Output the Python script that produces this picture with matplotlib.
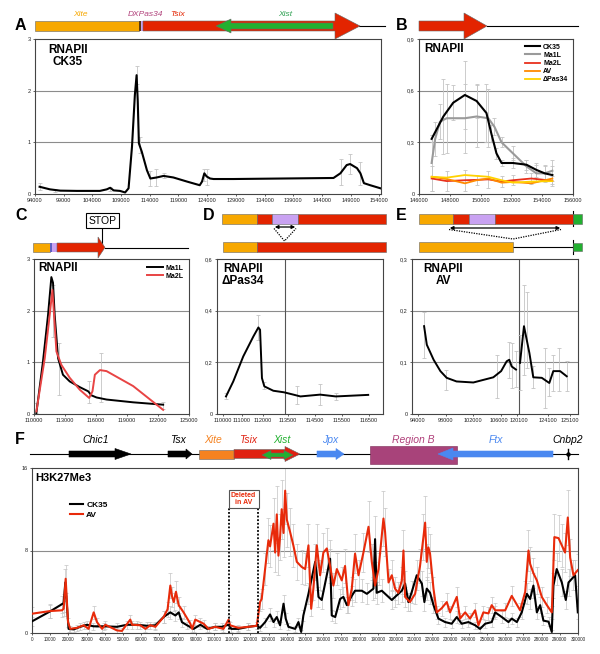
import numpy as np
import matplotlib
matplotlib.use("Agg")
import matplotlib.pyplot as plt
from matplotlib.patches import Rectangle, Polygon
from matplotlib.transforms import ScaledTranslation

plt.rcParams['font.family'] = ['Liberation Sans', 'DejaVu Sans']

# ---------------- DATA ----------------
# Panel A : RNAPII CK35
A_x = [94800, 96600, 98400, 101300, 105300, 106500, 107100, 107700, 108800, 109700, 110300, 110900,
       111400, 111700, 111900, 112100, 112600, 113500, 114100, 115200, 116400, 118100, 120500, 122700,
       123100, 123500, 123900, 124500, 125100, 128600, 146000, 147200, 148300, 148900, 150100, 150700,
       151300, 152400, 154200]
A_y = [0.14, 0.09, 0.065, 0.06, 0.06, 0.09, 0.12, 0.07, 0.06, 0.03, 0.11, 0.92,
       1.92, 2.30, 1.80, 0.98, 0.82, 0.46, 0.30, 0.32, 0.35, 0.32, 0.24, 0.17,
       0.24, 0.40, 0.34, 0.30, 0.29, 0.29, 0.31, 0.40, 0.56, 0.58, 0.50, 0.40,
       0.21, 0.17, 0.11]
A_err_x = [94800, 97500, 107100, 111700, 112300, 114100, 115000, 116400, 123500, 124000, 147300, 148900, 150700]
A_err_y = [0.14, 0.07, 0.10, 2.30, 0.95, 0.30, 0.32, 0.35, 0.37, 0.33, 0.42, 0.58, 0.40]
A_err = [0.07, 0.03, 0.04, 0.18, 0.15, 0.15, 0.17, 0.05, 0.12, 0.15, 0.25, 0.20, 0.22]
A_xticks = [94000, 99000, 104000, 109000, 114000, 119000, 124000, 129000, 134000, 139000, 144000, 149000, 154000]

# Panel B : RNAPII at 3' region
B_ck_x = [146820, 147580, 148220, 148980, 149740, 150380, 150700, 151030, 151360, 152100, 152980, 153620, 154160, 154660]
B_ck = [0.32, 0.45, 0.53, 0.575, 0.54, 0.47, 0.35, 0.236, 0.18, 0.18, 0.17, 0.14, 0.12, 0.11]
B_ck_err = [0.02, 0.22, 0.10, 0.20, 0.10, 0.17, 0.05, 0.03, 0.02, 0.03, 0.03, 0.04, 0.04, 0.05]
B_ma1_x = [146820, 147050, 147360, 147800, 148980, 149740, 150500, 150900, 151360, 152100, 152980, 153620, 154160, 154660]
B_ma1 = [0.18, 0.32, 0.42, 0.44, 0.44, 0.45, 0.44, 0.39, 0.30, 0.236, 0.16, 0.12, 0.12, 0.135]
B_ma1_err = [0.16, 0.10, 0.10, 0.20, 0.20, 0.18, 0.17, 0.05, 0.03, 0.04, 0.04, 0.05, 0.05, 0.06]
B_low_x = [146820, 147800, 148980, 149740, 150500, 151360, 152100, 153300, 154660]
B_ma2 = [0.09, 0.075, 0.08, 0.082, 0.085, 0.072, 0.08, 0.09, 0.077]
B_av = [0.10, 0.087, 0.062, 0.08, 0.09, 0.066, 0.07, 0.062, 0.09]
B_dp = [0.10, 0.095, 0.11, 0.105, 0.10, 0.08, 0.066, 0.072, 0.075]
B_low_err = [0.07, 0.06, 0.06, 0.03, 0.05, 0.03, 0.03, 0.03, 0.03]
B_xticks = [146000, 148000, 150000, 152000, 154000, 156000]

# Panel C : STOP lines
C_ma1_x = [110230, 110870, 111360, 111680, 111840, 112000, 112330, 112800, 113460, 114430, 115240, 115570,
           116050, 117020, 119600, 122500]
C_ma1 = [0.02, 1.02, 1.92, 2.65, 2.54, 1.92, 1.08, 0.76, 0.63, 0.52, 0.44, 0.36, 0.32, 0.28, 0.226, 0.18]
C_ma2_x = [110230, 111040, 111520, 111780, 111940, 112170, 112650, 113460, 114430, 115340, 115660, 115890,
           116380, 117020, 119600, 122500]
C_ma2 = [0.05, 1.08, 1.92, 2.40, 1.92, 1.21, 0.95, 0.70, 0.47, 0.31, 0.44, 0.76, 0.85, 0.83, 0.54, 0.08]
C_err_x = [110160, 111840, 112400, 115340, 116480, 122500]
C_err_y = [0.11, 2.0, 0.87, 0.42, 0.71, 0.17]
C_err = [0.10, 0.50, 0.50, 0.21, 0.47, 0.07]
C_xticks = [110000, 113000, 116000, 119000, 122000, 125000]

# Panel D : deltaPas34
D_x = [110158, 110540, 111060, 111540, 111780, 111860, 111900, 111950, 112080, 112620, 113260, 113700,
       113960, 114690, 115270, 116470]
D_y = [0.068, 0.126, 0.223, 0.30, 0.335, 0.326, 0.243, 0.139, 0.107, 0.09, 0.084, 0.075,
       0.068, 0.075, 0.068, 0.074]
D_err_x = [110158, 111780, 112080, 113820, 114690, 115270]
D_err_y = [0.07, 0.335, 0.11, 0.075, 0.075, 0.068]
D_err = [0.01, 0.05, 0.012, 0.035, 0.04, 0.015]
D_xticks = [110000, 111000, 112000, 113500, 114500, 115500, 116500]
D_break = 113300

# Panel E : AV
E_l_x = [94870, 95260, 96230, 97200, 98100, 99560, 102050, 104900, 106100, 111000, 113300, 115400, 119200]
E_l_y = [0.17, 0.134, 0.105, 0.083, 0.07, 0.063, 0.061, 0.071, 0.083, 0.102, 0.105, 0.092, 0.086]
E_r_x = [120490, 121000, 121700, 122200, 123300, 124160, 124340, 124650, 124950]
E_r_y = [0.099, 0.17, 0.118, 0.071, 0.07, 0.06, 0.083, 0.083, 0.073]
E_err_x = [94870, 98000, 105390, 112800, 115700, 119200, 120490, 121000, 121350, 122200, 123700, 124160,
           124340, 124620, 124950]
E_err_y = [0.153, 0.066, 0.073, 0.105, 0.094, 0.087, 0.10, 0.163, 0.163, 0.071, 0.07, 0.062, 0.08, 0.086, 0.073]
E_err = [0.045, 0.02, 0.042, 0.035, 0.044, 0.034, 0.053, 0.087, 0.074, 0.021, 0.058, 0.027, 0.035, 0.042, 0.029]
E_xticks = [94000, 98000, 102000, 106000, 120100, 124100, 125100]
E_break = 120360

# Panel F : H3K27Me3 (positions in kb)
F_ck_kb = [0, 10, 16.5, 17.4, 18.3, 20.1, 22.9, 26.5, 30.2, 33.7, 39.4, 46.7, 52.2, 57.7, 63.2, 67.8, 72.3,
           76, 78.8, 80.6, 82.4, 85.2, 88.8, 92.5, 96.2, 100.7, 104.3, 108, 109.5, 113.4, 118.9, 123.5, 125.3,
           128.1, 130.8, 132.7, 134.5, 136.3, 138.2, 139.4, 140.9, 144.6, 146.4, 147.9, 149.1, 151.9, 155.6,
           156.5, 157.4, 159.2, 163.8, 164.7, 166.6, 169.3, 171.1, 173, 175.7, 177.5, 181.2, 184, 187.6,
           188.5, 189.4, 192.2, 197.7, 199.5, 203.2, 205, 206.8, 208.7, 211.4, 214.2, 215.6, 216.9, 218.7,
           220.6, 223.3, 227, 230.6, 233.4, 236.1, 239.8, 243.5, 246.2, 249, 252.6, 254.5, 258.1, 261.8,
           263.6, 266.4, 269.1, 271.9, 273.7, 275.5, 277.4, 279.2, 281, 283.8, 285.6, 286.5, 288.3, 291.1,
           293.3, 294.8, 298.4, 299.9]
F_ck = [1.13, 2.1, 2.8, 2.9, 4.9, 0.4, 0.35, 0.6, 0.8, 0.65, 0.65, 0.6, 0.8, 0.8, 0.7, 0.75, 1.55,
        2.0, 1.7, 2.0, 1.05, 0.75, 0.4, 0.8, 0.4, 0.6, 0.6, 0.8, 0.4, 0.4, 0.6, 0.7, 0.5,
        1.06, 1.8, 1.06, 1.55, 0.75, 2.84, 1.4, 0.6, 0.4, 1.06, 0.1, 1.7, 3.8, 6.9,
        5.6, 3.5, 3.2, 7.2, 1.7, 1.55, 3.3, 3.5, 2.7, 3.6, 4.1, 4.1, 3.8, 4.3,
        9.1, 3.9, 4.1, 3.2, 3.5, 4.1, 4.8, 3.0, 4.0, 5.6, 4.8, 3.0, 4.3, 3.9,
        2.7, 1.4, 1.06, 0.9, 1.55, 0.9, 1.06, 0.75, 0.4, 0.9, 1.06, 2.0, 1.55, 1.06,
        1.4, 1.06, 2.0, 3.8, 3.3, 4.6, 2.0, 2.7, 1.2, 1.1, 0.1, 4.6, 6.2, 4.9,
        3.2, 4.9, 5.6, 2.0]
F_av_kb = [0, 10, 16.5, 17.4, 18.5, 19.8, 21, 24.7, 28.4, 31.1, 33.9, 35.7, 38.5, 40.3, 46.7, 49.4, 54, 55,
           59.5, 62.3, 65, 67.8, 72.3, 74.5, 76, 77, 77.9, 79.1, 80.6, 83.3, 87, 88, 89.7, 92.5, 94.3, 97,
           100.6, 105.2, 108, 108.8, 113.4, 118.9, 123.5, 125.3, 126.2, 128.1, 129.9, 130.8, 132.7, 133.6,
           134.5, 135.4, 136.3, 137.2, 138.2, 139.1, 140, 141.8, 143.6, 145.5, 148.2, 150.1, 151.9, 153.4,
           154.6, 156.5, 158.3, 160.1, 162, 163.8, 165.6, 167.5, 170.2, 172, 173.9, 175.7, 177.5, 179.4,
           182.1, 184.9, 186.7, 188.5, 190.4, 193.1, 194, 195.9, 197.7, 199.5, 201.3, 203.2, 204.1, 205,
           207.7, 210.5, 213.2, 215.1, 216, 216.9, 217.8, 218.7, 220.6, 222.4, 225.1, 227.9, 229.7, 233.4,
           235.2, 238, 240.7, 243.5, 245.3, 248, 250.8, 252.6, 254.5, 260, 263.6, 268.2, 271, 272.8, 273.7,
           275.5, 277.4, 280.1, 282.9, 285.6, 287, 289.3, 291.1, 292.9, 294.4, 295.7, 297.5, 299.9]
F_av = [1.87, 2.13, 2.2, 2.36, 5.26, 1.06, 0.4, 0.5, 0.75, 0.4, 2.0, 1.06, 0.4, 0.8, 0.25, 0.2, 1.3, 0.8,
        0.75, 0.4, 0.75, 0.6, 1.55, 2.3, 4.6, 3.5, 3.0, 4.0, 2.7, 2.0, 0.9, 0.4, 1.3, 1.06, 0.9, 0.4,
        0.6, 0.4, 1.3, 0.75, 0.5, 0.6, 0.7, 3.0, 3.3, 6.2, 9.0, 8.4, 10.6, 7.8,
        11.5, 7.5, 9.3, 12.0, 9.7, 13.8, 11.0, 9.8, 8.5, 6.9, 6.4, 6.2, 8.5, 2.35,
        4.3, 8.5, 5.6, 7.8, 8.2, 6.5, 4.6, 6.2, 5.1, 6.5, 2.7, 4.3, 7.7, 5.6,
        7.8, 10.3, 6.9, 4.6, 6.2, 11.1, 9.8, 4.9, 5.6, 4.3, 3.9, 5.1, 8.0, 3.5,
        3.0, 3.8, 6.5, 9.3, 10.7, 6.9, 8.3, 7.7, 4.3, 2.0, 2.4, 3.0, 2.0, 3.5,
        1.4, 2.0, 1.4, 2.2, 0.75, 2.0, 1.9, 2.7, 2.2, 2.2, 3.6, 2.2, 4.0, 8.0, 6.7,
        5.8, 5.1, 3.5, 2.7, 2.0, 9.3, 9.2, 8.5, 7.8, 11.2, 7.3, 5.6, 6.1]
F_REL_ERR = 0.22
F_deleted = [108300, 124200]
F_xticks = list(range(0, 300001, 10000))

# ---------------- STYLE ----------------
GRID = '#8c8c8c'
ERRC = '#c4c4c4'
ORANGE = '#F7A800'
RED = '#E32400'
LILAC = '#C9A2F2'
GREEN = '#22B030'
PURPLE = '#B0407A'
BLUE = '#4A88F0'

fig = plt.figure(figsize=(6.0, 6.54), dpi=100)


def ax_px(l, t, r, b):
    return fig.add_axes([l / 600, 1 - b / 654, (r - l) / 600, (b - t) / 654])


def style(ax, yticks, ylabels, xticks, xlabels, ylim, hgrid):
    ax.set_ylim(*ylim)
    ax.set_yticks(yticks)
    ax.set_yticklabels(ylabels)
    ax.set_xticks(xticks)
    ax.set_xticklabels(xlabels)
    ax.tick_params(labelsize=4, length=1.5, width=0.5, pad=1.5, colors='#222222')
    ax.minorticks_off()
    for s in ax.spines.values():
        s.set_color('#444444')
        s.set_linewidth(0.8)
    for g in hgrid:
        ax.axhline(g, color=GRID, lw=0.8, zorder=0)


def piecewise(g, p):
    g = np.asarray(g, float)
    p = np.asarray(p, float)

    def f(x):
        x = np.asarray(x, float)
        lo = p[0] + (x - g[0]) * (p[1] - p[0]) / (g[1] - g[0])
        hi = p[-1] + (x - g[-1]) * (p[-1] - p[-2]) / (g[-1] - g[-2])
        return np.where(x < g[0], lo, np.where(x > g[-1], hi, np.interp(x, g, p)))
    return f


def ebar(ax, x, y, e, lw=0.6):
    ax.errorbar(x, y, yerr=e, fmt='none', ecolor=ERRC, elinewidth=lw, capsize=1.3, capthick=lw, zorder=1)


# ---- Panel A
axA = ax_px(35, 39, 381, 194)
ebar(axA, A_err_x, A_err_y, A_err)
axA.plot(A_x, A_y, color='black', lw=1.5, zorder=3)
axA.set_xlim(94000, 154280)
style(axA, [0, 1, 2, 3], ['0', '1', '2', '3'], A_xticks, [str(v) for v in A_xticks], (0, 3), [1, 2])

# ---- Panel B
axB = ax_px(419, 39, 573, 194)
ebar(axB, B_ck_x, B_ck, B_ck_err)
ebar(axB, B_ma1_x, B_ma1, B_ma1_err)
ebar(axB, B_low_x, B_ma2, B_low_err)
axB.plot(B_ck_x, B_ck, color='black', lw=1.5, zorder=4, label='CK35')
axB.plot(B_ma1_x, B_ma1, color='#9a9a9a', lw=1.5, zorder=3, label='Ma1L')
axB.plot(B_low_x, B_ma2, color='#E8301C', lw=1.3, zorder=3, label='Ma2L')
axB.plot(B_low_x, B_av, color='#FF8A00', lw=1.3, zorder=3, label='AV')
axB.plot(B_low_x, B_dp, color='#FFD200', lw=1.3, zorder=3, label='ΔPas34')
axB.set_xlim(146000, 156000)
style(axB, [0, 0.3, 0.6, 0.9], ['0', '0,3', '0,6', '0,9'], B_xticks, [str(v) for v in B_xticks], (0, 0.9), [0.3, 0.6])
axB.legend(loc='upper right', frameon=False, prop={'weight': 'bold', 'size': 5}, handlelength=2.2,
           labelspacing=0.15, handletextpad=0.4, borderaxespad=0.3)

# ---- Panel C
axC = ax_px(34, 259, 189, 414)
ebar(axC, C_err_x, C_err_y, C_err)
axC.plot(C_ma1_x, C_ma1, color='black', lw=1.4, zorder=3, label='Ma1L')
axC.plot(C_ma2_x, C_ma2, color='#E84444', lw=1.4, zorder=4, label='Ma2L')
axC.set_xlim(110000, 125000)
style(axC, [0, 1, 2, 3], ['0', '1', '2', '3'], C_xticks, [str(v) for v in C_xticks], (0, 3), [1, 2])
axC.legend(loc='upper right', frameon=False, prop={'weight': 'bold', 'size': 5}, handlelength=2.2,
           labelspacing=0.15, handletextpad=0.4, borderaxespad=0.4)

# ---- Panel D (broken axis)
D_tick_px = [223, 242, 263, 288, 315, 342, 369]
dfwd = piecewise(D_xticks, D_tick_px)
dinv = piecewise(D_tick_px, D_xticks)
axD = ax_px(217, 259, 383, 414)
axD.set_xscale('function', functions=(dfwd, dinv))
ebar(axD, D_err_x, D_err_y, D_err)
axD.plot(D_x, D_y, color='black', lw=1.4, zorder=3)
axD.set_xlim(float(dinv(217)), float(dinv(383)))
style(axD, [0, 0.2, 0.4, 0.6], ['0', '0,2', '0,4', '0,6'], D_xticks, [str(v) for v in D_xticks], (0, 0.6), [0.2, 0.4])
axD.axvline(D_break, color='#555555', lw=0.8, zorder=0)

# ---- Panel E (broken axis)
E_tick_px = [418, 446, 473, 501, 517, 548, 570]
efwd = piecewise(E_xticks, E_tick_px)
einv = piecewise(E_tick_px, E_xticks)
axE = ax_px(412, 259, 578, 414)
axE.set_xscale('function', functions=(efwd, einv))
ebar(axE, E_err_x, E_err_y, E_err)
axE.plot(E_l_x, E_l_y, color='black', lw=1.4, zorder=3)
axE.plot(E_r_x, E_r_y, color='black', lw=1.4, zorder=3)
axE.set_xlim(float(einv(412)), float(einv(578)))
style(axE, [0, 0.1, 0.2, 0.3], ['0', '0,1', '0,2', '0,3'], E_xticks, [str(v) for v in E_xticks], (0, 0.3), [0.1, 0.2])
axE.axvline(E_break, color='#555555', lw=0.8, zorder=0)
_elabs = axE.get_xticklabels()
_elabs[3].set_transform(_elabs[3].get_transform() + ScaledTranslation(-1.8 / 100, 0, fig.dpi_scale_trans))
_elabs[4].set_transform(_elabs[4].get_transform() + ScaledTranslation(1.8 / 100, 0, fig.dpi_scale_trans))

# ---- Panel F
axF = ax_px(32, 468, 578, 633)
fck_x = np.array(F_ck_kb) * 1000
fav_x = np.array(F_av_kb) * 1000
fck = np.array(F_ck)
fav = np.array(F_av)
ebar(axF, fck_x, fck, fck * F_REL_ERR + 0.2, lw=0.5)
ebar(axF, fav_x, fav, fav * F_REL_ERR + 0.2, lw=0.5)
axF.plot(fck_x, fck, color='black', lw=1.5, zorder=3, label='CK35')
axF.plot(fav_x, fav, color='#E82A0A', lw=1.5, zorder=4, label='AV')
axF.set_xlim(0, 300000)
style(axF, [0, 8, 16], ['0', '8', '16'], F_xticks, [str(v) for v in F_xticks], (0, 16), [8])
axF.tick_params(axis='x', labelsize=3.3)
for xd in F_deleted:
    axF.plot([xd, xd], [0, 12.1], color='black', lw=1.3, ls=(0, (1, 1)), zorder=5)
axF.text(sum(F_deleted) / 2, 13.0, 'Deleted\nin AV', color='#E82A0A', fontsize=5, fontweight='bold',
         ha='center', va='center', linespacing=1.0,
         bbox=dict(boxstyle='square,pad=0.35', fc='white', ec='#555555', lw=0.8), zorder=6)
axF.legend(loc='upper left', bbox_to_anchor=(0.055, 0.845), frameon=False,
           prop={'weight': 'bold', 'size': 6}, handlelength=1.6, labelspacing=0.3, handletextpad=0.4)

# ---------------- OVERLAY (gene maps, labels) ----------------
ov = fig.add_axes([0, 0, 1, 1])
ov.set_xlim(0, 600)
ov.set_ylim(654, 0)
ov.axis('off')
ov.patch.set_alpha(0)


def rect(x0, x1, y0, y1, c, ec='#666666', lw=0.4):
    ov.add_patch(Rectangle((x0, y0), x1 - x0, y1 - y0, fc=c, ec=ec, lw=lw, zorder=3))


def arrow(x_tail, x_tip, yc, sh, hh, hl, c, ec='#666666', lw=0.4):
    d = 1 if x_tip > x_tail else -1
    hb = x_tip - d * hl
    pts = [(x_tail, yc - sh / 2), (hb, yc - sh / 2), (hb, yc - hh / 2), (x_tip, yc),
           (hb, yc + hh / 2), (hb, yc + sh / 2), (x_tail, yc + sh / 2)]
    ov.add_patch(Polygon(pts, closed=True, fc=c, ec=ec, lw=lw, zorder=4))


def darrow(x0, x1, yc, sh, hh, hl, c, ec='#666666', lw=0.4):
    pts = [(x0, yc), (x0 + hl, yc - hh / 2), (x0 + hl, yc - sh / 2), (x1 - hl, yc - sh / 2),
           (x1 - hl, yc - hh / 2), (x1, yc), (x1 - hl, yc + hh / 2), (x1 - hl, yc + sh / 2),
           (x0 + hl, yc + sh / 2), (x0 + hl, yc + hh / 2)]
    ov.add_patch(Polygon(pts, closed=True, fc=c, ec=ec, lw=lw, zorder=5))


def line(xs, ys, c='black', lw=0.8, ls='-'):
    ov.plot(xs, ys, color=c, lw=lw, ls=ls, zorder=2)


def letter(x, y, s):
    ov.text(x, y, s, fontsize=11.5, fontweight='bold', ha='left', va='center')


# A map
line([359, 385], [26, 26])
rect(35, 139, 21, 31, ORANGE)
rect(139, 140.6, 21, 31, '#5a3a10', lw=0)
rect(140.6, 143, 21, 31, LILAC, lw=0)
arrow(143, 360, 26, 10, 26, 25, RED)
arrow(333, 216, 26, 6, 14, 15, GREEN)
for s, x, c in [('Xite', 80, ORANGE), ('DXPas34', 145, PURPLE), ('Tsix', 178, RED), ('Xist', 285, '#2CA050')]:
    ov.text(x, 15, s, color=c, fontsize=6, style='italic', ha='center', va='center')
letter(15, 25, 'A')

# B map
arrow(419, 487, 26, 10, 26, 23, RED)
line([487, 578], [26, 26])
letter(396, 25, 'B')

# C map
line([105, 188], [247.5, 247.5])
rect(33, 50, 243, 252, ORANGE)
rect(50, 51.5, 243, 252, '#6060c0', lw=0)
rect(51.5, 57, 243, 252, LILAC, lw=0)
arrow(57, 105, 247.5, 9, 21, 7, RED)
line([102, 102], [228, 243], lw=0.8)
ov.text(102.5, 220.5, 'STOP', fontsize=7.5, ha='center', va='center',
        bbox=dict(boxstyle='square,pad=0.25', fc='white', ec='black', lw=0.8))
letter(15, 216, 'C')

# D map
rect(222, 257, 214, 223.5, ORANGE)
rect(257, 272, 214, 223.5, RED)
rect(272, 298, 214, 223.5, LILAC)
rect(298, 386, 214, 223.5, RED)
ov.annotate('', xy=(272, 227), xytext=(298, 227),
            arrowprops=dict(arrowstyle='<|-|>', color='black', lw=0.9, mutation_scale=5))
line([274, 284.5, 296], [228.5, 241, 228.5], lw=0.9, ls=(0, (1, 1)))
rect(223, 257, 242, 252, ORANGE)
rect(257, 386, 242, 252, RED)
letter(203, 216, 'D')

# E map
rect(419, 453, 214, 223.5, ORANGE)
rect(453, 469, 214, 223.5, RED)
rect(469, 495, 214, 223.5, LILAC)
rect(495, 573, 214, 223.5, RED)
rect(573, 582, 214, 223.5, GREEN)
line([573, 573], [211, 226], lw=0.8)
ov.annotate('', xy=(447, 228), xytext=(563, 228),
            arrowprops=dict(arrowstyle='<|-|>', color='black', lw=0.9, mutation_scale=5))
line([449, 513, 561], [229.5, 239, 229.5], lw=0.9, ls=(0, (1, 1)))
rect(419, 513, 242, 252, ORANGE)
line([513, 573], [247, 247])
line([573, 573], [240, 254])
rect(573, 582, 243, 251, GREEN)
letter(396, 216, 'E')

# F map
line([30, 578], [454, 454])
arrow(69, 131, 454, 6, 11, 16, 'black', ec='black')
arrow(168, 192, 454, 6, 10, 6, 'black', ec='black')
rect(199, 234, 450, 459, '#F58220')
arrow(234, 300, 454, 9, 15, 15, '#E02010')
darrow(262, 293, 455, 4, 9, 9, GREEN)
arrow(317, 344, 454, 6, 11, 8, BLUE, ec=BLUE)
rect(370, 457, 446, 463.5, '#A8437A', ec='#7a2a55')
arrow(553, 438, 454, 6, 12, 15, BLUE, ec=BLUE)
line([568, 568], [449, 459], lw=1.0)
ov.plot([568], [454], marker='D', ms=2, color='black', zorder=4)
for s, x, c in [('Chic1', 96, 'black'), ('Tsx', 178, 'black'), ('Xite', 213, '#F58220'),
                ('Tsix', 248, '#E02010'), ('Xist', 282, GREEN), ('Jpx', 330, BLUE),
                ('Region B', 413, '#B0407A'), ('Ftx', 496, BLUE), ('Cnbp2', 568, 'black')]:
    ov.text(x, 440, s, color=c, fontsize=7.5, style='italic', ha='center', va='center')
letter(15, 439, 'F')

# Titles inside panels
ov.text(68, 56, 'RNAPII\nCK35', fontsize=8.5, fontweight='bold', ha='center', va='center', linespacing=0.95)
ov.text(424, 49, 'RNAPII', fontsize=8.5, fontweight='bold', ha='left', va='center')
ov.text(38, 268, 'RNAPII', fontsize=8.5, fontweight='bold', ha='left', va='center')
ov.text(243, 275, 'RNAPII\nΔPas34', fontsize=8.5, fontweight='bold', ha='center', va='center', linespacing=0.95)
ov.text(443, 275, 'RNAPII\nAV', fontsize=8.5, fontweight='bold', ha='center', va='center', linespacing=0.95)
ov.text(35, 478, 'H3K27Me3', fontsize=8, fontweight='bold', ha='left', va='center')

fig.savefig('out.png', dpi=100)
